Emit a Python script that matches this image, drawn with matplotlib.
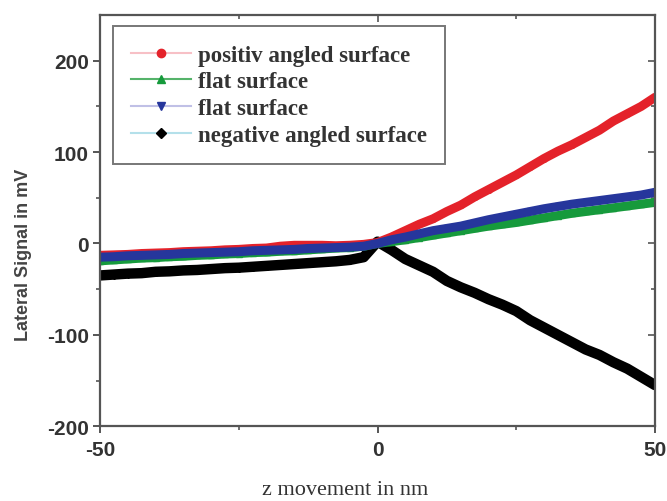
import matplotlib
matplotlib.use("Agg")
import matplotlib.pyplot as plt
import numpy as np
from matplotlib.lines import Line2D

plt.rcParams["axes.unicode_minus"] = False

# z movement in nm
z = [-50, -47.5, -45, -42.5, -40, -37.5, -35, -32.5, -30, -27.5, -25, -22.5,
     -20, -17.5, -15, -12.5, -10, -7.5, -5, -2.5, 0, 2.5, 5, 7.5, 10, 12.5,
     15, 17.5, 20, 22.5, 25, 27.5, 30, 32.5, 35, 37.5, 40, 42.5, 45, 47.5, 50]

# lateral signal in mV
positive = [-13, -12.5, -12, -11, -10.5, -10, -9, -8.5, -8, -7, -6.5, -5.5,
            -5, -3, -2, -2, -2, -2.5, -2, -1, 1, 7, 14, 21, 27, 35,
            42, 51, 59, 67, 75, 84, 93, 101, 108, 116, 124, 134, 142, 150, 160]
flat_a = [-19, -18, -17, -16, -15.5, -14.5, -14, -13, -12.5, -11.5, -11, -10,
          -9.5, -8.5, -8, -7, -6, -5, -4.5, -3, 0, 2, 4, 6.5, 9, 11.5,
          14, 16.5, 19, 21, 23, 25.5, 28, 30.5, 33, 35, 37, 39, 41, 43, 45]
flat_b = [-15, -14.5, -13.5, -13, -12.5, -12, -11, -10.5, -10, -9.5, -9, -8,
          -7.5, -7, -6.5, -5.5, -5, -4.5, -4, -3, 0, 4, 7, 10.5, 14, 16.5,
          19, 22.5, 26, 29, 32, 35, 38, 40.5, 43, 45, 47, 49, 51, 53, 56]
negative = [-35, -34, -33, -32.5, -31, -30.5, -29.5, -29, -28, -27, -26.5, -25.5,
            -24.5, -23.5, -22.5, -21.5, -20.5, -19.5, -18, -15, 2, -7, -17, -24, -31, -41,
            -48, -54, -61, -67, -74, -84, -92, -100, -108, -116, -122, -130, -137, -146, -155]

labels = ["positiv angled surface", "flat surface", "flat surface", "negative angled surface"]

fig = plt.figure(figsize=(6.67, 5.02), dpi=100)
ax = fig.add_axes([0.150, 0.149, 0.832, 0.819])

ax.plot(z, negative, color="black", lw=7.5, marker="D", ms=4, solid_capstyle="round")
ax.plot(z, flat_a, color="#169a3c", lw=6.5, marker="^", ms=4, solid_capstyle="round")
ax.plot(z, positive, color="#e4222a", lw=6.5, marker="o", ms=4, solid_capstyle="round")
ax.plot(z, flat_b, color="#26369c", lw=6.5, marker="v", ms=4, solid_capstyle="round")

ax.set_xlim(-50, 50)
ax.set_ylim(-200, 250)
ax.set_xticks([-50, 0, 50])
ax.set_xticks([-25, 25], minor=True)
ax.set_yticks([-200, -100, 0, 100, 200])
ax.set_yticks([-150, -50, 50, 150], minor=True)

spine_col = "#555555"
for s in ax.spines.values():
    s.set_color(spine_col)
    s.set_linewidth(1.6)
ax.tick_params(which="major", direction="out", length=5, width=1.4, color=spine_col,
               labelsize=15, labelcolor="#333333")
ax.tick_params(axis="x", which="major", pad=5)
ax.tick_params(axis="y", which="major", pad=3)
ax.tick_params(which="minor", direction="out", length=3, width=1.2, color=spine_col)
for lab in ax.get_xticklabels() + ax.get_yticklabels():
    lab.set_family("Liberation Sans")
    lab.set_weight("bold")

# mirrored inward ticks on top and right
top = ax.secondary_xaxis("top")
top.set_xticks([-50, 0, 50])
top.set_xticks([-25, 25], minor=True)
top.tick_params(which="both", direction="in", labeltop=False, color=spine_col, width=1.2)
top.tick_params(which="major", length=5)
top.tick_params(which="minor", length=3)
top.spines["top"].set_visible(False)
right = ax.secondary_yaxis("right")
right.set_yticks([-200, -100, 0, 100, 200])
right.set_yticks([-150, -50, 50, 150], minor=True)
right.tick_params(which="both", direction="in", labelright=False, color=spine_col, width=1.2)
right.tick_params(which="major", length=5)
right.tick_params(which="minor", length=3)
right.spines["right"].set_visible(False)

ax.set_ylabel("Lateral Signal in mV", family="Liberation Sans", fontsize=13,
              weight="bold", color="#444444", va="center")
ax.yaxis.set_label_coords(-0.138, 0.418)
ax.set_xlabel("z movement in nm", family="Liberation Serif", fontsize=16,
              color="#333333", va="center")
ax.xaxis.set_label_coords(0.441, -0.153)

handles = [
    Line2D([], [], color="#f7c0c6", lw=1.5, marker="o", ms=6, mfc="#e4222a", mec="#e4222a"),
    Line2D([], [], color="#55b36a", lw=1.5, marker="^", ms=6, mfc="#169a3c", mec="#169a3c"),
    Line2D([], [], color="#c0c0e6", lw=1.5, marker="v", ms=6, mfc="#26369c", mec="#26369c"),
    Line2D([], [], color="#b4e0ea", lw=1.5, marker="D", ms=5, mfc="black", mec="black"),
]
leg = ax.legend(handles, labels, loc="upper left", bbox_to_anchor=(0.023, 0.973),
                prop={"family": "Liberation Serif", "weight": "bold", "size": 16.5},
                frameon=True, fancybox=False, edgecolor="#555555", handlelength=2.6,
                handletextpad=0.3, labelspacing=0.25, borderpad=0.8, borderaxespad=0)
leg.get_frame().set_linewidth(1.4)
for t in leg.get_texts():
    t.set_color("#333333")

fig.savefig("out.png", dpi=100)
